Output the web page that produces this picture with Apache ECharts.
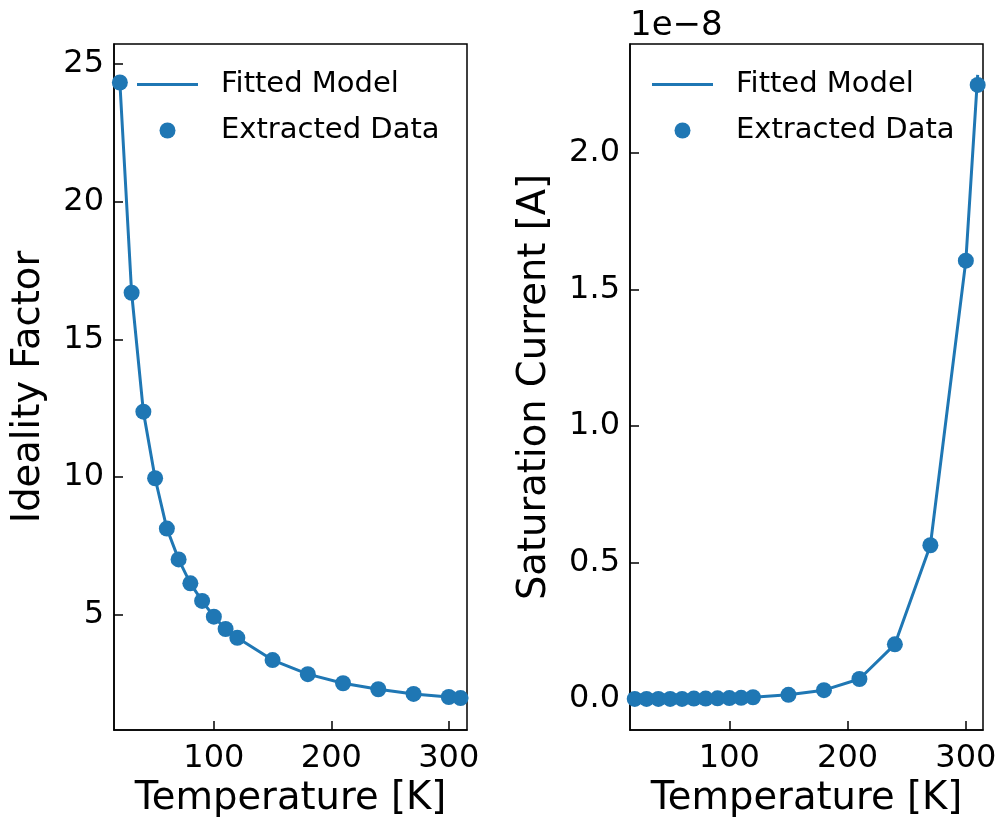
<!DOCTYPE html>
<html>
<head>
<meta charset="utf-8">
<script src="https://cdn.jsdelivr.net/npm/echarts@6/dist/echarts.min.js"></script>
<style>
html,body{margin:0;padding:0;background:#fff;}
#chart{width:998px;height:818px;}
</style>
</head>
<body>
<div id="chart"></div>
<script>
// ---- data ----
const temperatures = [20,30,40,50,60,70,80,90,100,110,120,150,180,210,240,270,300,310];
const idealityExtracted = [24.33,16.69,12.37,9.95,8.12,7.00,6.13,5.49,4.92,4.47,4.15,3.34,2.83,2.50,2.28,2.11,2.00,1.96];
const idealityFitted    = [24.33,16.69,12.37,9.95,8.12,7.00,6.13,5.49,4.92,4.47,4.15,3.34,2.83,2.50,2.28,2.11,2.00,1.96];
// saturation current in units of 1e-8 A
const satExtracted = [0.000,0.000,0.000,0.000,0.000,0.001,0.001,0.002,0.003,0.004,0.006,0.015,0.032,0.073,0.200,0.563,1.606,2.250];
const satFitted    = [0.000,0.000,0.000,0.000,0.000,0.001,0.001,0.002,0.003,0.004,0.006,0.015,0.032,0.073,0.200,0.563,1.606,2.287];
const xTicks = [100,200,300];
const idealityTicks = [5,10,15,20,25];
const satTicks = [0.0,0.5,1.0,1.5,2.0];
const legendNames = ['Fitted Model','Extracted Data'];

const FONT = 'DejaVu Sans';
const BLUE = '#1f77b4';
const pairs = (xs, ys) => xs.map((x,i)=>[x, ys[i]]);

function xAxisCfg(gridIndex, min, max){
  return {
    type:'value', gridIndex, min, max,
    name:'Temperature [K]', nameLocation:'middle', nameGap:45,
    nameTextStyle:{fontFamily:FONT,fontSize:38.5,color:'#000'},
    axisLine:{show:true,onZero:false,lineStyle:{color:'#000',width:1.5}},
    axisTick:{show:true,inside:true,length:9,lineStyle:{color:'#000',width:1.5},customValues:xTicks},
    axisLabel:{fontFamily:FONT,fontSize:32,color:'#000',margin:13,customValues:xTicks,formatter:v=>String(Math.round(v))},
    splitLine:{show:false}
  };
}
function yAxisCfg(gridIndex, min, max, name, ticks, fmt, gap){
  return {
    type:'value', gridIndex, min, max,
    name, nameLocation:'middle', nameGap:gap,
    nameTextStyle:{fontFamily:FONT,fontSize:38.5,color:'#000'},
    axisLine:{show:true,onZero:false,lineStyle:{color:'#000',width:1.5}},
    axisTick:{show:true,inside:true,length:9,lineStyle:{color:'#000',width:1.5},customValues:ticks},
    axisLabel:{fontFamily:FONT,fontSize:32,color:'#000',margin:10,customValues:ticks,formatter:fmt},
    splitLine:{show:false}
  };
}
function legendCfg(left){
  return {
    left, top:70, orient:'vertical', padding:0,
    itemWidth:61, itemHeight:16, itemGap:17,
    symbolKeepAspect:true,
    data:[{name:legendNames[0], icon:'path://M0,0 L61,0 L61,3 L0,3 Z'}, {name:legendNames[1], icon:'circle'}],
    selectedMode:false,
    itemStyle:{color:BLUE},
    textStyle:{fontFamily:FONT,fontSize:29,color:'#000',lineHeight:29,padding:[0,0,0,18]}
  };
}

const chart = echarts.init(document.getElementById('chart'), null, {renderer:'canvas'});
chart.setOption({
  animation:false,
  backgroundColor:'#fff',
  grid:[
    {left:114,top:44,width:353,height:686,outerBoundsMode:'none',containLabel:false,show:true,borderColor:'#000',borderWidth:1.5,backgroundColor:'transparent'},
    {left:630,top:44,width:353,height:686,outerBoundsMode:'none',containLabel:false,show:true,borderColor:'#000',borderWidth:1.5,backgroundColor:'transparent'}
  ],
  xAxis:[xAxisCfg(0,15,315.5), xAxisCfg(1,16,314.5)],
  yAxis:[
    yAxisCfg(0,0.80,25.73,'Ideality Factor',idealityTicks,v=>String(Math.round(v)),66),
    yAxisCfg(1,-0.114,2.40,'Saturation Current [A]',satTicks,v=>v.toFixed(1),76)
  ],
  legend:[legendCfg(137), legendCfg(652)],
  graphic:[{type:'text',left:630,top:9,style:{text:'1e\u22128',font:'34px "DejaVu Sans"',fill:'#000'}}],
  series:[
    {name:'Fitted Model',type:'line',xAxisIndex:0,yAxisIndex:0,data:pairs(temperatures,idealityFitted),
     showSymbol:false,symbol:'none',lineStyle:{color:BLUE,width:3},itemStyle:{color:BLUE},z:2},
    {name:'Extracted Data',type:'scatter',xAxisIndex:0,yAxisIndex:0,data:pairs(temperatures,idealityExtracted),
     symbol:'circle',symbolSize:16,itemStyle:{color:BLUE,opacity:1},z:3},
    {name:'Fitted Model',type:'line',xAxisIndex:1,yAxisIndex:1,data:pairs(temperatures,satFitted),
     showSymbol:false,symbol:'none',lineStyle:{color:BLUE,width:3},itemStyle:{color:BLUE},z:2},
    {name:'Extracted Data',type:'scatter',xAxisIndex:1,yAxisIndex:1,data:pairs(temperatures,satExtracted),
     symbol:'circle',symbolSize:16,itemStyle:{color:BLUE,opacity:1},z:3}
  ]
});
</script>
</body>
</html>
